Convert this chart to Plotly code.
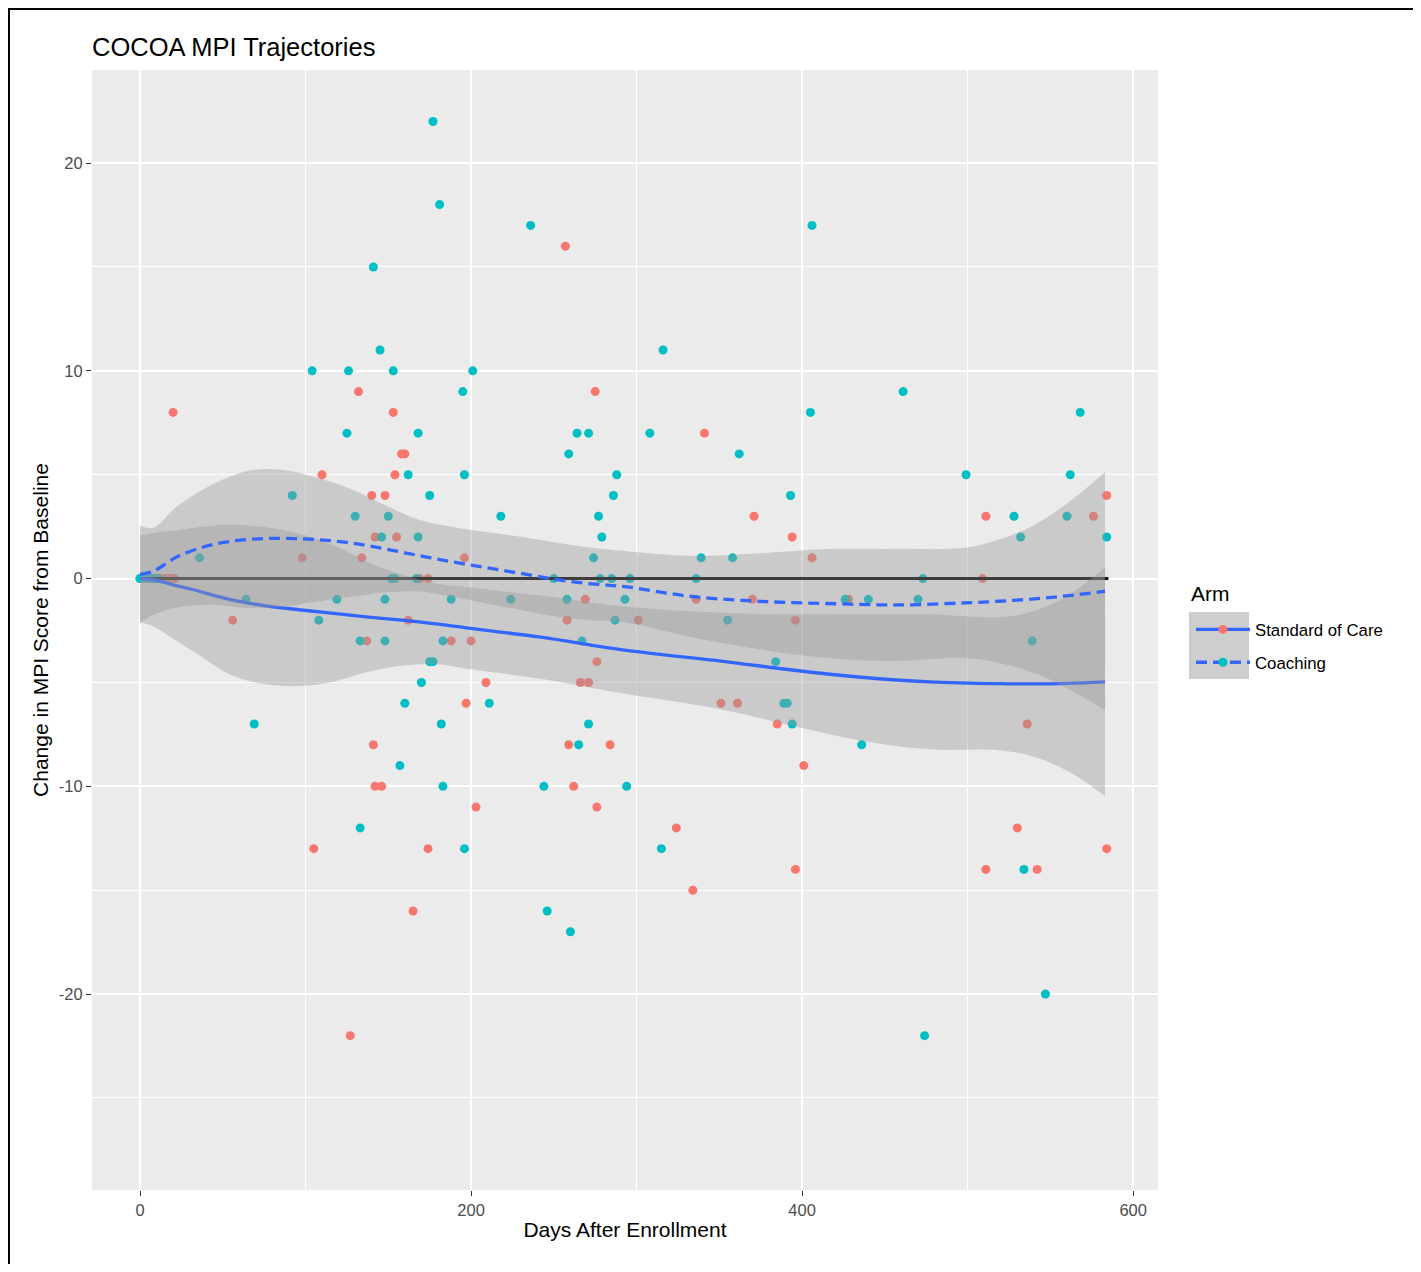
import plotly.graph_objects as go

# ---------------- data ----------------
# Standard of Care arm: (days after enrollment, change in MPI score)
soc_days = [257,
            132, 275,
            20, 153,
            341,
            158, 160,
            110, 154,
            140, 148, 584,
            371, 511, 576,
            142, 155, 394,
            98, 134, 196, 406,
            1, 3, 5, 12, 15, 18, 20, 21, 169, 174, 509,
            269, 336, 370, 428,
            56, 162, 258, 301, 396,
            137, 188, 200,
            276,
            209, 266, 271,
            197, 351, 361,
            385, 536,
            141, 259, 284,
            401,
            142, 146, 262,
            203, 276,
            324, 530,
            105, 174, 584,
            396, 511, 542,
            334,
            165,
            127]
soc_change = [16,
              9, 9,
              8, 8,
              7,
              6, 6,
              5, 5,
              4, 4, 4,
              3, 3, 3,
              2, 2, 2,
              1, 1, 1, 1,
              0, 0, 0, 0, 0, 0, 0, 0, 0, 0, 0,
              -1, -1, -1, -1,
              -2, -2, -2, -2, -2,
              -3, -3, -3,
              -4,
              -5, -5, -5,
              -6, -6, -6,
              -7, -7,
              -8, -8, -8,
              -9,
              -10, -10, -10,
              -11, -11,
              -12, -12,
              -13, -13, -13,
              -14, -14, -14,
              -15,
              -16,
              -22]

# Coaching arm
coach_days = [177, 181, 236, 406, 141, 145, 316,
              104, 126, 153, 201,
              195, 461,
              405, 568,
              125, 168, 264, 271, 308,
              259, 362,
              162, 196, 288, 499, 562,
              92, 175, 286, 393,
              130, 150, 218, 277, 528, 560,
              146, 168, 279, 532, 584,
              36, 274, 339, 358,
              0, 0, 2, 6, 8, 10, 11, 152, 154, 167, 250, 278, 285, 296, 336, 473,
              64, 119, 148, 188, 224, 258, 293, 426, 440, 470,
              108, 287, 355,
              133, 148, 183, 267, 539,
              175, 177, 384,
              170,
              160, 211, 389, 391,
              69, 182, 271, 394,
              265, 436,
              157,
              183, 244, 294,
              133,
              196, 315,
              534,
              246, 260, 547, 474]
coach_change = [22, 18, 17, 17, 15, 11, 11,
                10, 10, 10, 10,
                9, 9,
                8, 8,
                7, 7, 7, 7, 7,
                6, 6,
                5, 5, 5, 5, 5,
                4, 4, 4, 4,
                3, 3, 3, 3, 3, 3,
                2, 2, 2, 2, 2,
                1, 1, 1, 1,
                0, 0, 0, 0, 0, 0, 0, 0, 0, 0, 0, 0, 0, 0, 0, 0,
                -1, -1, -1, -1, -1, -1, -1, -1, -1, -1,
                -2, -2, -2,
                -3, -3, -3, -3, -3,
                -4, -4, -4,
                -5,
                -6, -6, -6, -6,
                -7, -7, -7, -7,
                -8, -8,
                -9,
                -10, -10, -10,
                -12,
                -13, -13,
                -14,
                -16, -17, -20, -22]

# loess smooths (fit and confidence band)
soc_fit_days = [0, 8, 20, 33, 54, 75, 96, 117, 138, 158, 179, 200, 242, 294,
                352, 394, 436, 477, 519, 540, 561, 583]
soc_fit = [0, -0.05, -0.3, -0.55, -1.0, -1.3, -1.5, -1.68, -1.85, -2.0, -2.18,
           -2.4, -2.82, -3.46, -3.98, -4.4, -4.75, -4.97, -5.06, -5.07, -5.04, -4.97]
soc_hi = [2.1, 2.2, 2.3, 2.45, 2.6, 2.48, 2.17, 1.6, 0.79, 0.2, -0.24, -0.43,
          -0.82, -1.36, -1.65, -1.72, -1.7, -1.72, -1.86, -1.57, -0.79, 0.53]
soc_lo = [-2.1, -2.3, -2.9, -3.55, -4.6, -5.08, -5.17, -4.96, -4.49, -4.2, -4.12,
          -4.37, -4.82, -5.56, -6.31, -7.08, -7.8, -8.22, -8.26, -8.57, -9.29, -10.47]

coach_fit_days = [0, 8, 23, 44, 65, 86, 106, 127, 148, 169, 190, 210, 231, 252,
                  273, 294, 332, 373, 415, 457, 498, 519, 540, 561, 583]
coach_fit = [0.2, 0.35, 1.07, 1.64, 1.88, 1.94, 1.88, 1.72, 1.43, 1.1, 0.79, 0.51,
             0.24, -0.05, -0.26, -0.4, -0.85, -1.09, -1.2, -1.27, -1.17, -1.09,
             -0.98, -0.82, -0.61]
coach_hi = [2.53, 2.45, 3.52, 4.54, 5.18, 5.24, 4.88, 4.32, 3.53, 2.82, 2.47, 2.23,
            2.0, 1.73, 1.49, 1.32, 1.1, 1.21, 1.42, 1.43, 1.48, 1.88, 2.57, 3.68, 5.12]
coach_lo = [-2.13, -1.75, -1.38, -1.26, -1.42, -1.36, -1.12, -0.88, -0.67, -0.62,
            -0.89, -1.21, -1.52, -1.83, -2.01, -2.12, -2.8, -3.39, -3.82, -3.97,
            -3.82, -4.06, -4.53, -5.32, -6.34]

# reference line at zero change
baseline_days = [0, 585]
baseline_change = [0, 0]

# axis ticks
x_ticks = [0, 200, 400, 600]
x_tick_labels = ["0", "200", "400", "600"]
x_minor = [100, 300, 500]
y_ticks = [-20, -10, 0, 10, 20]
y_tick_labels = ["-20", "-10", "0", "10", "20"]
y_minor = [-25, -15, -5, 5, 15]

arm_names = ["Standard of Care", "Coaching"]

# ---------------- styling ----------------
RED = "#F8766D"
CYAN = "#00BFC4"
BLUE = "#3366FF"
RIBBON = "rgba(153,153,153,0.4)"
FONT = "Liberation Sans, Arial, Helvetica, sans-serif"
DASH = "11px,6px"

W, H = 1410, 1256
ML, MT = 84, 62
PW, PH = 1066, 1120
MR, MB = W - ML - PW, H - MT - PH

fig = go.Figure()

# points
fig.add_trace(go.Scatter(x=soc_days, y=soc_change, mode="markers",
                         marker=dict(color=RED, size=9, line=dict(width=0)),
                         showlegend=False, hoverinfo="skip"))
fig.add_trace(go.Scatter(x=coach_days, y=coach_change, mode="markers",
                         marker=dict(color=CYAN, size=9, line=dict(width=0)),
                         showlegend=False, hoverinfo="skip"))

# zero line
fig.add_trace(go.Scatter(x=baseline_days, y=baseline_change, mode="lines",
                         line=dict(color="black", width=3),
                         showlegend=False, hoverinfo="skip"))

# Standard of Care smooth
fig.add_trace(go.Scatter(x=soc_fit_days, y=soc_lo, mode="lines",
                         line=dict(width=0, shape="spline", color=RIBBON),
                         showlegend=False, hoverinfo="skip"))
fig.add_trace(go.Scatter(x=soc_fit_days, y=soc_hi, mode="lines",
                         line=dict(width=0, shape="spline", color=RIBBON),
                         fill="tonexty", fillcolor=RIBBON,
                         showlegend=False, hoverinfo="skip"))
fig.add_trace(go.Scatter(x=soc_fit_days, y=soc_fit, mode="lines",
                         line=dict(width=3.3, shape="spline", color=BLUE),
                         showlegend=False, hoverinfo="skip"))

# Coaching smooth
fig.add_trace(go.Scatter(x=coach_fit_days, y=coach_lo, mode="lines",
                         line=dict(width=0, shape="spline", color=RIBBON),
                         showlegend=False, hoverinfo="skip"))
fig.add_trace(go.Scatter(x=coach_fit_days, y=coach_hi, mode="lines",
                         line=dict(width=0, shape="spline", color=RIBBON),
                         fill="tonexty", fillcolor=RIBBON,
                         showlegend=False, hoverinfo="skip"))
fig.add_trace(go.Scatter(x=coach_fit_days, y=coach_fit, mode="lines",
                         line=dict(width=3.3, shape="spline", color=BLUE, dash=DASH),
                         showlegend=False, hoverinfo="skip"))

# legend entries
fig.add_trace(go.Scatter(x=[None], y=[None], mode="lines+markers", name=arm_names[0],
                         legendgroup="soc",
                         line=dict(color=BLUE, width=3.3),
                         marker=dict(color=RED, size=9)))
fig.add_trace(go.Scatter(x=[None], y=[None], mode="lines+markers", name=arm_names[1],
                         legendgroup="coach",
                         line=dict(color=BLUE, width=3.3, dash=DASH),
                         marker=dict(color=CYAN, size=9)))


def px_x(fx):
    return (fx - ML) / PW


def px_y(fy):
    return (MT + PH - fy) / PH


axis_common = dict(
    showgrid=True, gridcolor="white", gridwidth=2,
    zeroline=False, showline=False,
    ticks="outside", ticklen=5, tickwidth=1.2, tickcolor="#333333",
    tickfont=dict(size=16.5, color="#4D4D4D", family=FONT),
    tickmode="array", automargin=False,
)

fig.update_layout(
    width=W, height=H,
    margin=dict(l=ML, r=MR, t=MT, b=MB, autoexpand=False),
    paper_bgcolor="white", plot_bgcolor="#EBEBEB",
    font=dict(family=FONT, color="black"),
    title=dict(text="COCOA MPI Trajectories", x=ML / W, xanchor="left",
               y=1 - 39 / H, yanchor="middle",
               font=dict(size=25.5, color="black", family=FONT)),
    xaxis=dict(range=[-29, 615], tickvals=x_ticks, ticktext=x_tick_labels,
               minor=dict(tickmode="array", tickvals=x_minor, showgrid=True,
                          gridcolor="white", gridwidth=1, ticks=""),
               title=dict(text="Days After Enrollment", standoff=4,
                          font=dict(size=21, color="black", family=FONT)),
               **axis_common),
    yaxis=dict(range=[-29.43, 24.48], tickvals=y_ticks, ticktext=y_tick_labels,
               minor=dict(tickmode="array", tickvals=y_minor, showgrid=True,
                          gridcolor="white", gridwidth=1, ticks=""),
               title=dict(text="Change in MPI Score from Baseline", standoff=4,
                          font=dict(size=21, color="black", family=FONT)),
               **axis_common),
    legend=dict(font=dict(size=16.8, color="black", family=FONT),
                x=px_x(1183), xanchor="left", y=px_y(604), yanchor="top",
                bgcolor="rgba(0,0,0,0)", itemwidth=54,
                traceorder="grouped", tracegroupgap=8),
    annotations=[
        dict(text="Arm", xref="paper", yref="paper", x=px_x(1181), y=px_y(585),
             xanchor="left", yanchor="middle", showarrow=False,
             font=dict(size=21, color="black", family=FONT)),
    ],
    shapes=[
        dict(type="rect", xref="paper", yref="paper",
             x0=px_x(1181), x1=px_x(1241), y0=px_y(671), y1=px_y(604),
             fillcolor="#CECECE", line=dict(width=0), layer="below"),
        dict(type="rect", xref="paper", yref="paper",
             x0=px_x(1), x1=px_x(1408), y0=px_y(1300), y1=px_y(1),
             fillcolor="rgba(0,0,0,0)", line=dict(color="black", width=2)),
    ],
    hovermode=False,
)

fig.write_html("out.html")
